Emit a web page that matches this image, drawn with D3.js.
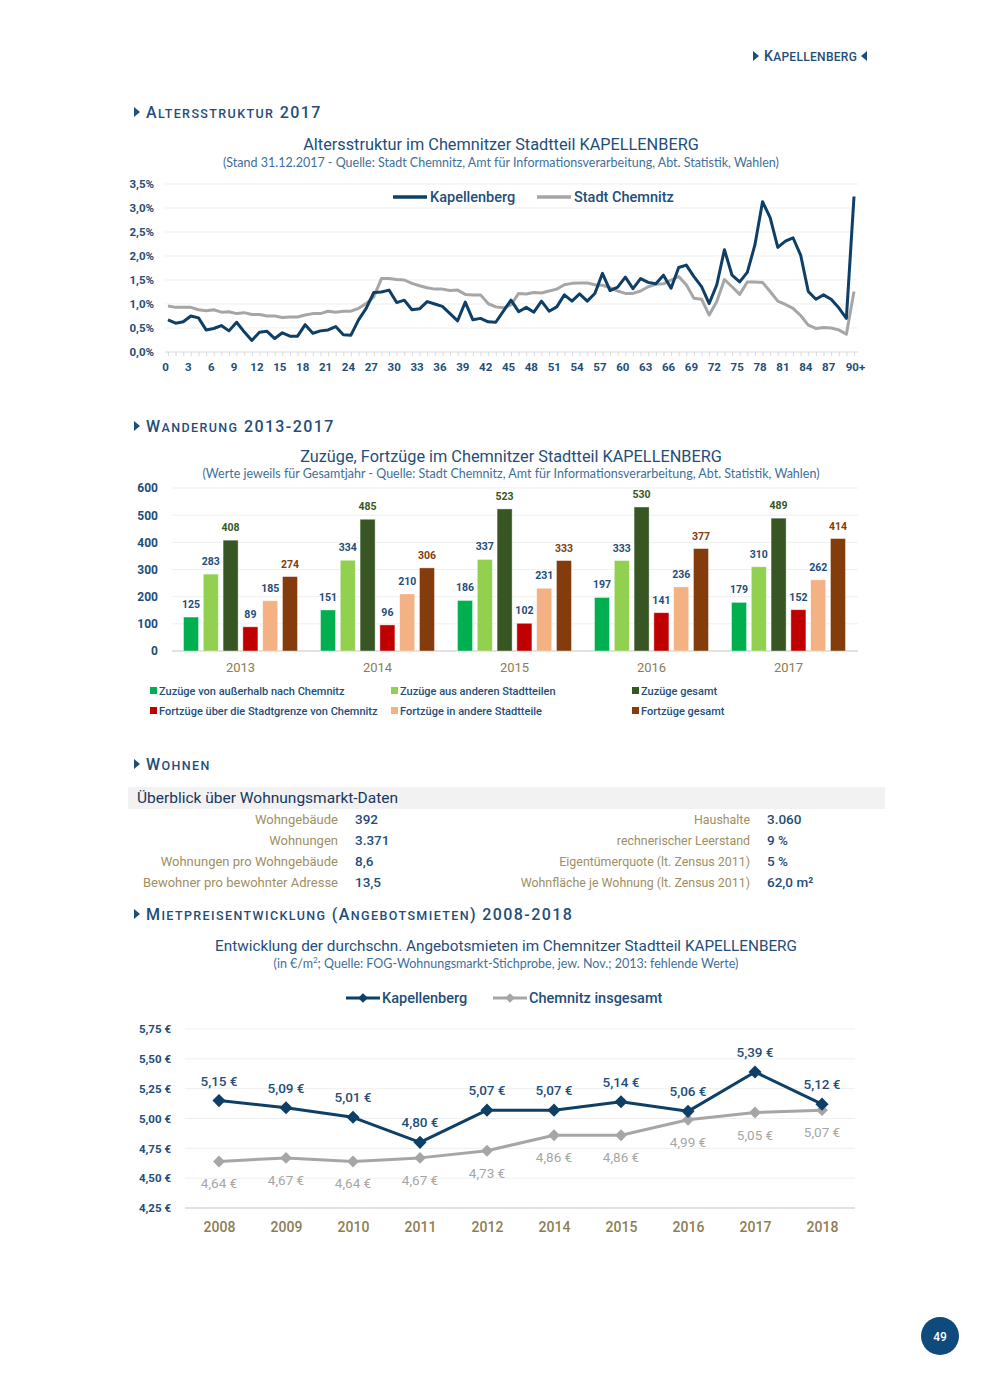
<!DOCTYPE html>
<html>
<head>
<meta charset="utf-8">
<script src="https://cdn.jsdelivr.net/npm/d3@7.9.0/dist/d3.min.js"></script>
<style>
  body { margin: 0; background: #fff; }
  svg text { font-family: Roboto, sans-serif; }
</style>
</head>
<body>
<svg id="page" width="990" height="1389"></svg>
<script>
// ---- data: Altersstruktur 2017 (percent of population per age year) ----
const ages = d3.range(0, 91);
const ageTicks = d3.range(0, 91, 3);
const kapellenberg = [
  0.67, 0.60, 0.63, 0.75, 0.71, 0.46, 0.49, 0.55, 0.44, 0.62,
  0.42, 0.24, 0.41, 0.43, 0.28, 0.40, 0.33, 0.33, 0.57, 0.39,
  0.44, 0.46, 0.53, 0.36, 0.35, 0.67, 0.91, 1.24, 1.25, 1.29,
  1.03, 1.08, 0.88, 0.90, 1.05, 1.00, 0.95, 0.80, 0.65, 1.04,
  0.67, 0.70, 0.63, 0.62, 0.85, 1.08, 0.84, 0.93, 0.83, 1.06,
  0.85, 0.94, 1.19, 1.06, 1.21, 1.06, 1.22, 1.64, 1.28, 1.35,
  1.56, 1.32, 1.53, 1.45, 1.42, 1.60, 1.33, 1.76, 1.81, 1.57,
  1.36, 1.01, 1.40, 2.13, 1.60, 1.46, 1.66, 2.23, 3.13, 2.80,
  2.18, 2.31, 2.38, 2.02, 1.26, 1.10, 1.19, 1.10, 0.92, 0.70,
  3.24
];
const stadtChemnitz = [
  0.96, 0.93, 0.93, 0.93, 0.88, 0.86, 0.88, 0.83, 0.84, 0.80,
  0.82, 0.78, 0.78, 0.75, 0.75, 0.72, 0.73, 0.73, 0.77, 0.80,
  0.80, 0.85, 0.83, 0.85, 0.85, 0.91, 1.01, 1.15, 1.53, 1.53,
  1.51, 1.50, 1.43, 1.38, 1.34, 1.31, 1.31, 1.28, 1.29, 1.20,
  1.19, 1.19, 1.01, 0.94, 0.92, 0.98, 1.22, 1.21, 1.24, 1.23,
  1.27, 1.31, 1.40, 1.43, 1.44, 1.44, 1.40, 1.39, 1.34, 1.27,
  1.22, 1.22, 1.27, 1.36, 1.41, 1.42, 1.50, 1.57, 1.40, 1.12,
  1.10, 0.77, 1.05, 1.51, 1.36, 1.20, 1.46, 1.46, 1.45, 1.26,
  1.06, 0.99, 0.91, 0.76, 0.56, 0.49, 0.51, 0.50, 0.46, 0.37,
  1.26
];
const ageYTicks = [0, 0.5, 1, 1.5, 2, 2.5, 3, 3.5];

// ---- data: Wanderung 2013-2017 ----
const wYears = ['2013', '2014', '2015', '2016', '2017'];
const wSeries = ['Zuzüge von außerhalb nach Chemnitz', 'Zuzüge aus anderen Stadtteilen', 'Zuzüge gesamt',
  'Fortzüge über die Stadtgrenze von Chemnitz', 'Fortzüge in andere Stadtteile', 'Fortzüge gesamt'];
const zuzuegeAussen = [125, 151, 186, 197, 179];
const zuzuegeStadtteile = [283, 334, 337, 333, 310];
const zuzuegeGesamt = [408, 485, 523, 530, 489];
const fortzuegeAussen = [89, 96, 102, 141, 152];
const fortzuegeStadtteile = [185, 210, 231, 236, 262];
const fortzuegeGesamt = [274, 306, 333, 377, 414];
const wYTicks = [0, 100, 200, 300, 400, 500, 600];

// ---- data: Wohnungsmarkt ----
const tableLeftLabels = ['Wohngebäude', 'Wohnungen', 'Wohnungen pro Wohngebäude', 'Bewohner pro bewohnter Adresse'];
const tableLeftValues = ['392', '3.371', '8,6', '13,5'];
const tableRightLabels = ['Haushalte', 'rechnerischer Leerstand', 'Eigentümerquote (lt. Zensus 2011)', 'Wohnfläche je Wohnung (lt. Zensus 2011)'];
const tableRightValues = ['3.060', '9 %', '5 %', '62,0 m²'];

// ---- data: Mietpreise ----
const mYears = ['2008', '2009', '2010', '2011', '2012', '2014', '2015', '2016', '2017', '2018'];
const kapMiete = [5.15, 5.09, 5.01, 4.80, 5.07, 5.07, 5.14, 5.06, 5.39, 5.12];
const chemMiete = [4.64, 4.67, 4.64, 4.67, 4.73, 4.86, 4.86, 4.99, 5.05, 5.07];
const mYTicks = [4.25, 4.5, 4.75, 5.0, 5.25, 5.5, 5.75];

// colours
const textBlue = '#1f4e79';
const lineBlue = '#0e3f66';
const lineGray = '#a6a6a6';
const olive = '#8c7d52';
const grid = '#efefef';
const barColors = ['#00b050', '#92d050', '#375623', '#c00000', '#f4b183', '#843c0c'];
const barLabelColors = [textBlue, textBlue, '#375623', textBlue, textBlue, '#843c0c'];

const comma = (f) => (d) => d3.format(f)(d).replace('.', ',');

const svg = d3.select('#page');

// small caps heading: lowercase letters become smaller capitals
function smallCaps(x, y, text, big, small, spacing) {
  const t = svg.append('text').attr('x', x).attr('y', y)
    .attr('fill', textBlue).attr('letter-spacing', spacing).attr('font-weight', 500);
  text.match(/[a-zäöüß]+|[^a-zäöüß]+/g).forEach(run => {
    const lower = /[a-zäöüß]/.test(run[0]);
    t.append('tspan').attr('font-size', lower ? small : big).text(run.toUpperCase());
  });
  return t;
}
function triangle(x, y, dir) {
  const p = d3.path();
  p.moveTo(x, y - 5); p.lineTo(x + 6 * dir, y); p.lineTo(x, y + 5); p.closePath();
  svg.append('path').attr('d', p.toString()).attr('fill', textBlue);
}
function sectionHeading(y, text) {
  triangle(134, y, 1);
  smallCaps(146, y + 6, text, 16, 12.5, 1.4);
}

// page header
triangle(753, 56, 1);
smallCaps(764, 61, 'Kapellenberg', 14, 12, 0.3);
triangle(867, 56, -1);

// ================= Altersstruktur =================
sectionHeading(112, 'Altersstruktur 2017');

svg.append('text').attr('x', 501).attr('y', 150).attr('text-anchor', 'middle')
  .attr('font-size', 16.3).attr('fill', textBlue)
  .text('Altersstruktur im Chemnitzer Stadtteil KAPELLENBERG');
svg.append('text').attr('x', 501).attr('y', 167).attr('text-anchor', 'middle')
  .attr('font-size', 12.5).attr('fill', '#3f6f9a').style('font-family', 'Lato, sans-serif')
  .text('(Stand 31.12.2017 - Quelle: Stadt Chemnitz, Amt für Informationsverarbeitung, Abt. Statistik, Wahlen)');

const ax = d3.scaleLinear().domain([0, 90]).range([168, 854]);
const ay = d3.scaleLinear().domain([0, 3.5]).range([352, 184]);

const ageG = svg.append('g');
ageG.selectAll('line.grid').data(ageYTicks.slice(1)).join('line')
  .attr('x1', 165).attr('x2', 858)
  .attr('y1', d => ay(d)).attr('y2', d => ay(d))
  .attr('stroke', grid);

ageG.append('g').attr('transform', 'translate(157,0)')
  .call(d3.axisLeft(ay).tickValues(ageYTicks).tickSize(0).tickFormat(d => comma('.1f')(d) + '%'))
  .call(g => g.select('.domain').remove())
  .call(g => g.selectAll('text').attr('font-size', 11.5).attr('font-weight', 'bold')
    .attr('fill', textBlue).style('font-family', 'Roboto, sans-serif'));

// x axis with a small tick per age year, labels every 3 years
ageG.append('g').attr('transform', 'translate(0,352)')
  .call(d3.axisBottom(ax).tickValues(ages).tickSize(4).tickFormat(''))
  .call(g => g.select('.domain').attr('stroke', '#d9d9d9').attr('d', 'M165,0H858'))
  .call(g => g.selectAll('.tick line').attr('stroke', '#d9d9d9'));
ageG.append('g').attr('transform', 'translate(0,352)')
  .call(d3.axisBottom(ax).tickValues(ageTicks).tickSize(0).tickPadding(11)
    .tickFormat(d => d === 90 ? '90+' : d))
  .call(g => g.select('.domain').remove())
  .call(g => g.selectAll('text').attr('font-size', 11.5).attr('font-weight', 'bold')
    .attr('fill', textBlue).style('font-family', 'Roboto, sans-serif')
    .attr('dx', d => d === 90 ? 1 : -3));

const ageLine = d3.line().x((d, i) => ax(ages[i])).y(d => ay(d));
ageG.append('path').datum(stadtChemnitz).attr('d', ageLine)
  .attr('fill', 'none').attr('stroke', lineGray).attr('stroke-width', 3).attr('stroke-linejoin', 'round');
ageG.append('path').datum(kapellenberg).attr('d', ageLine)
  .attr('fill', 'none').attr('stroke', lineBlue).attr('stroke-width', 3).attr('stroke-linejoin', 'round');

// legend
[[393, 'Kapellenberg', lineBlue], [537, 'Stadt Chemnitz', lineGray]].forEach(([x, label, c]) => {
  ageG.append('line').attr('x1', x).attr('x2', x + 34).attr('y1', 197).attr('y2', 197)
    .attr('stroke', c).attr('stroke-width', 3.5);
  ageG.append('text').attr('x', x + 37).attr('y', 202).attr('font-size', 14.5).attr('font-weight', 500)
    .attr('fill', textBlue).text(label);
});

// ================= Wanderung =================
sectionHeading(426, 'Wanderung 2013-2017');

svg.append('text').attr('x', 511).attr('y', 462).attr('text-anchor', 'middle')
  .attr('font-size', 16.3).attr('fill', textBlue)
  .text('Zuzüge, Fortzüge im Chemnitzer Stadtteil KAPELLENBERG');
svg.append('text').attr('x', 511).attr('y', 478).attr('text-anchor', 'middle')
  .attr('font-size', 12.5).attr('fill', '#3f6f9a').style('font-family', 'Lato, sans-serif')
  .text('(Werte jeweils für Gesamtjahr - Quelle: Stadt Chemnitz, Amt für Informationsverarbeitung, Abt. Statistik, Wahlen)');

const wValues = [zuzuegeAussen, zuzuegeStadtteile, zuzuegeGesamt, fortzuegeAussen, fortzuegeStadtteile, fortzuegeGesamt];
const wx0 = d3.scaleBand().domain(wYears).range([172, 857]).paddingInner(0.168).paddingOuter(0.084);
const wx1 = d3.scaleBand().domain(d3.range(6)).range([0, wx0.bandwidth()]).paddingInner(0.24);
const wy = d3.scaleLinear().domain([0, 600]).range([651, 488]);

const wG = svg.append('g');
wG.selectAll('line.grid').data(wYTicks.slice(1)).join('line')
  .attr('x1', 172).attr('x2', 858)
  .attr('y1', d => wy(d)).attr('y2', d => wy(d)).attr('stroke', grid);
wG.append('line').attr('x1', 172).attr('x2', 858).attr('y1', wy(0)).attr('y2', wy(0))
  .attr('stroke', '#d9d9d9').attr('stroke-width', 1.5);

wG.append('g').attr('transform', 'translate(161,0)')
  .call(d3.axisLeft(wy).tickValues(wYTicks).tickSize(0))
  .call(g => g.select('.domain').remove())
  .call(g => g.selectAll('text').attr('font-size', 12).attr('font-weight', 'bold')
    .attr('fill', textBlue).style('font-family', 'Roboto, sans-serif'));

wG.append('g').attr('transform', 'translate(0,651)')
  .call(d3.axisBottom(wx0).tickSize(0).tickPadding(12))
  .call(g => g.select('.domain').remove())
  .call(g => g.selectAll('text').attr('font-size', 13).attr('fill', olive)
    .style('font-family', 'Roboto, sans-serif'));

const groups = wG.selectAll('g.year').data(wYears).join('g')
  .attr('transform', d => `translate(${wx0(d)},0)`);
groups.selectAll('rect').data((d, yi) => wValues.map((s, si) => ({ si, v: s[yi] }))).join('rect')
  .attr('x', d => wx1(d.si)).attr('width', wx1.bandwidth())
  .attr('y', d => wy(d.v)).attr('height', d => wy(0) - wy(d.v))
  .attr('fill', d => barColors[d.si]).attr('stroke', '#fff').attr('stroke-opacity', 0.5).attr('stroke-width', 0.8);
groups.selectAll('text.val').data((d, yi) => wValues.map((s, si) => ({ si, v: s[yi] }))).join('text')
  .attr('class', 'val')
  .attr('x', d => wx1(d.si) + wx1.bandwidth() / 2).attr('y', d => wy(d.v) - 9)
  .attr('text-anchor', 'middle').attr('font-size', 10.5).attr('font-weight', 'bold')
  .attr('fill', d => barLabelColors[d.si]).text(d => d.v);

// legend, two rows of three
const legX = [150, 391, 632];
wSeries.forEach((name, i) => {
  const x = legX[i % 3], y = i < 3 ? 691 : 711;
  wG.append('rect').attr('x', x).attr('y', y - 4).attr('width', 7).attr('height', 7).attr('fill', barColors[i]);
  wG.append('text').attr('x', x + 9).attr('y', y + 3.5).attr('font-size', 11).attr('font-weight', 500)
    .attr('fill', textBlue).text(name);
});

// ================= Wohnen =================
sectionHeading(764, 'Wohnen');

svg.append('rect').attr('x', 128).attr('y', 787).attr('width', 757).attr('height', 22).attr('fill', '#f2f2f2');
svg.append('text').attr('x', 137).attr('y', 803).attr('font-size', 15.5).attr('fill', '#17375e')
  .text('Überblick über Wohnungsmarkt-Daten');

const rowY = d3.scalePoint().domain(d3.range(4)).range([824, 887]);
function tableColumn(labels, values, labelX, valueX, labelSize) {
  svg.selectAll(null).data(labels).join('text')
    .attr('x', labelX).attr('y', (d, i) => rowY(i)).attr('text-anchor', 'end')
    .attr('font-size', labelSize).attr('fill', '#a08f5f').text(d => d);
  svg.selectAll(null).data(values).join('text')
    .attr('x', valueX).attr('y', (d, i) => rowY(i))
    .attr('font-size', 13.5).attr('font-weight', 500).attr('fill', textBlue).text(d => d);
}
tableColumn(tableLeftLabels, tableLeftValues, 338, 355, 13);
tableColumn(tableRightLabels, tableRightValues, 750, 767, 12.4);

// ================= Mietpreise =================
sectionHeading(914, 'Mietpreisentwicklung (Angebotsmieten) 2008-2018');

svg.append('text').attr('x', 506).attr('y', 951).attr('text-anchor', 'middle')
  .attr('font-size', 15.3).attr('fill', textBlue)
  .text('Entwicklung der durchschn. Angebotsmieten im Chemnitzer Stadtteil KAPELLENBERG');
const sub = svg.append('text').attr('x', 506).attr('y', 968).attr('text-anchor', 'middle')
  .attr('font-size', 12.5).attr('fill', '#3f6f9a').style('font-family', 'Lato, sans-serif');
sub.append('tspan').text('(in €/m');
sub.append('tspan').attr('font-size', 8).attr('dy', -5).text('2');
sub.append('tspan').attr('dy', 5).text('; Quelle: FOG-Wohnungsmarkt-Stichprobe, jew. Nov.; 2013: fehlende Werte)');

const mx = d3.scalePoint().domain(mYears).range([219, 822]);
const my = d3.scaleLinear().domain([4.25, 5.75]).range([1208, 1029]);
const mG = svg.append('g');

mG.selectAll('line.grid').data(mYTicks).join('line')
  .attr('x1', 185).attr('x2', 855)
  .attr('y1', d => my(d)).attr('y2', d => my(d))
  .attr('stroke', d => d === 4.25 ? '#d9d9d9' : grid).attr('stroke-width', d => d === 4.25 ? 1.5 : 1);

mG.append('g').attr('transform', 'translate(174,0)')
  .call(d3.axisLeft(my).tickValues(mYTicks).tickSize(0).tickFormat(d => comma('.2f')(d) + ' €'))
  .call(g => g.select('.domain').remove())
  .call(g => g.selectAll('text').attr('font-size', 11.5).attr('font-weight', 'bold')
    .attr('fill', textBlue).style('font-family', 'Roboto, sans-serif'));

mG.append('g').attr('transform', 'translate(0,1208)')
  .call(d3.axisBottom(mx).tickSize(0).tickPadding(14))
  .call(g => g.select('.domain').remove())
  .call(g => g.selectAll('text').attr('font-size', 14).attr('font-weight', 500).attr('fill', olive)
    .style('font-family', 'Roboto, sans-serif'));

const diamond = (size) => d3.symbol(d3.symbolDiamond2, size);
function rentSeries(values, color, labelColor, dy, weight, size) {
  const line = d3.line().x((d, i) => mx(mYears[i])).y(d => my(d));
  mG.append('path').datum(values).attr('d', line)
    .attr('fill', 'none').attr('stroke', color).attr('stroke-width', 3).attr('stroke-linejoin', 'round');
  mG.selectAll(null).data(values).join('path')
    .attr('transform', (d, i) => `translate(${mx(mYears[i])},${my(d)})`)
    .attr('d', diamond(size)).attr('fill', color);
  mG.selectAll(null).data(values).join('text')
    .attr('x', (d, i) => mx(mYears[i])).attr('y', d => my(d) + dy)
    .attr('text-anchor', 'middle').attr('font-size', 13.5).attr('font-weight', weight)
    .attr('fill', labelColor).text(d => comma('.2f')(d) + ' €');
}
rentSeries(chemMiete, lineGray, '#a6a6a6', 27, 400, 90);
rentSeries(kapMiete, lineBlue, textBlue, -15, 500, 110);

// legend
[[346, 'Kapellenberg', lineBlue], [493, 'Chemnitz insgesamt', lineGray]].forEach(([x, label, c]) => {
  mG.append('line').attr('x1', x).attr('x2', x + 34).attr('y1', 998).attr('y2', 998)
    .attr('stroke', c).attr('stroke-width', 3);
  mG.append('path').attr('transform', `translate(${x + 17},998)`).attr('d', diamond(60)).attr('fill', c);
  mG.append('text').attr('x', x + 36).attr('y', 1003).attr('font-size', 14.5).attr('font-weight', 500)
    .attr('fill', textBlue).text(label);
});

// page number
svg.append('circle').attr('cx', 940).attr('cy', 1336).attr('r', 19).attr('fill', '#0f4a7c');
svg.append('text').attr('x', 940).attr('y', 1340.5).attr('text-anchor', 'middle')
  .attr('font-size', 12).attr('font-weight', 500).attr('fill', '#fff').text('49');
</script>
</body>
</html>
